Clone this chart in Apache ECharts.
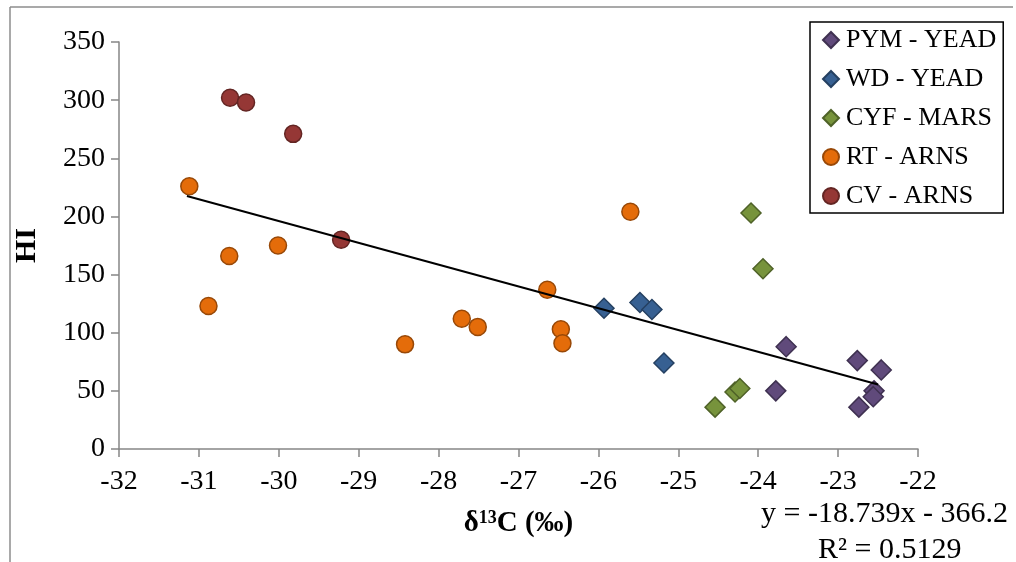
<!DOCTYPE html>
<html>
<head>
<meta charset="utf-8">
<script src="https://cdn.jsdelivr.net/npm/echarts@6/dist/echarts.min.js"></script>
<style>html,body{margin:0;padding:0;background:#fff}#c{width:1016px;height:562px}</style>
</head>
<body>
<div id="c"></div>
<script>
// ---- data ----
var seriesNames = ['PYM - YEAD', 'WD - YEAD', 'CYF - MARS', 'RT - ARNS', 'CV - ARNS'];
var pymYead = [[-23.65, 88], [-23.78, 50], [-22.76, 76], [-22.74, 36], [-22.46, 68], [-22.55, 50], [-22.56, 45]];
var wdYead = [[-25.93, 121], [-25.48, 126], [-25.33, 120], [-25.18, 74]];
var cyfMars = [[-24.09, 203], [-23.94, 155], [-24.54, 36], [-24.29, 49], [-24.23, 52]];
var rtArns = [[-31.12, 226], [-30.88, 123], [-30.62, 166], [-30.01, 175], [-28.42, 90], [-27.71, 112], [-27.51, 105], [-26.64, 137], [-26.47, 103], [-26.45, 91], [-25.60, 204]];
var cvArns = [[-30.61, 302], [-30.41, 298], [-29.82, 271], [-29.22, 180]];
var trendSlope = -18.739, trendIntercept = -366.2, trendXStart = -31.15, trendXEnd = -22.5;
var xTicks = { min: -32, max: -22, interval: 1 };
var yTicks = { min: 0, max: 350, interval: 50 };
var equationText = 'y = -18.739x - 366.2';
var r2Text = 'R² = 0.5129';

var trendLine = [trendXStart, trendXEnd].map(function (x) { return [x, trendSlope * x + trendIntercept]; });

var FONT = 'Liberation Serif';
var colors = [
  { fill: '#604a7b', border: '#3f3151' },
  { fill: '#376092', border: '#254061' },
  { fill: '#77933c', border: '#4f6228' },
  { fill: '#e46c0a', border: '#984807' },
  { fill: '#953735', border: '#632523' }
];
var datasets = [pymYead, wdYead, cyfMars, rtArns, cvArns];
var symbols = ['diamond', 'diamond', 'diamond', 'circle', 'circle'];
var sizes = [20, 20, 20, 17, 17];

var series = datasets.map(function (d, i) {
  return {
    name: seriesNames[i], type: 'scatter', data: d,
    symbol: symbols[i], symbolSize: sizes[i],
    itemStyle: { color: colors[i].fill, borderColor: colors[i].border, borderWidth: 1.5, opacity: 1 },
    z: 3
  };
});
series.unshift({
  name: 'trend', type: 'line', data: trendLine, symbol: 'none',
  lineStyle: { color: '#000', width: 2 }, z: 4, silent: true
});

var chart = echarts.init(document.getElementById('c'), null, { renderer: 'canvas' });
chart.setOption({
  animation: false,
  backgroundColor: '#fff',
  grid: { left: 119, right: 98, top: 42, bottom: 113, containLabel: false },
  xAxis: {
    type: 'value', min: xTicks.min, max: xTicks.max, interval: xTicks.interval,
    axisLine: { lineStyle: { color: '#868686', width: 1.5 } },
    axisTick: { show: true, length: 8, lineStyle: { color: '#868686', width: 1.5 } },
    axisLabel: { fontFamily: FONT, fontSize: 28, color: '#000', margin: 19 },
    splitLine: { show: false },
    name: '{b|δ}{s|13}{b|C (‰)}', nameLocation: 'middle', nameGap: 60,
    nameTextStyle: {
      rich: {
        b: { fontFamily: FONT, fontSize: 29, fontWeight: 'bold', color: '#000' },
        s: { fontFamily: FONT, fontSize: 18, fontWeight: 'bold', color: '#000', verticalAlign: 'top', padding: [0, 0, 10, 0] }
      }
    }
  },
  yAxis: {
    type: 'value', min: yTicks.min, max: yTicks.max, interval: yTicks.interval,
    axisLine: { show: true, lineStyle: { color: '#868686', width: 1.5 } },
    axisTick: { show: true, length: 8, lineStyle: { color: '#868686', width: 1.5 } },
    axisLabel: { fontFamily: FONT, fontSize: 28, color: '#000', margin: 14 },
    splitLine: { show: false },
    name: 'HI', nameLocation: 'middle', nameGap: 77, nameRotate: 90,
    nameTextStyle: { fontFamily: FONT, fontSize: 30, fontWeight: 'bold', color: '#000' }
  },
  legend: {
    data: seriesNames, orient: 'vertical', left: 810, top: 22,
    padding: [5, 7, 4, 12], itemGap: 13, itemWidth: 16, itemHeight: 16,
    borderColor: '#000', borderWidth: 1.5,
    textStyle: { fontFamily: FONT, fontSize: 26, color: '#000', padding: [0, 0, 0, 2] }
  },
  graphic: [
    { type: 'line', shape: { x1: 10, y1: 7, x2: 1013, y2: 7 }, style: { stroke: '#8c8c8c', lineWidth: 1.5 } },
    { type: 'line', shape: { x1: 10, y1: 7, x2: 10, y2: 562 }, style: { stroke: '#8c8c8c', lineWidth: 1.5 } },
    { type: 'text', right: 8, top: 499, style: { text: equationText, font: '30px "' + FONT + '"', fill: '#000' } },
    { type: 'text', left: 818, top: 535, style: { text: r2Text, font: '30px "' + FONT + '"', fill: '#000' } }
  ],
  series: series
});
</script>
</body>
</html>
